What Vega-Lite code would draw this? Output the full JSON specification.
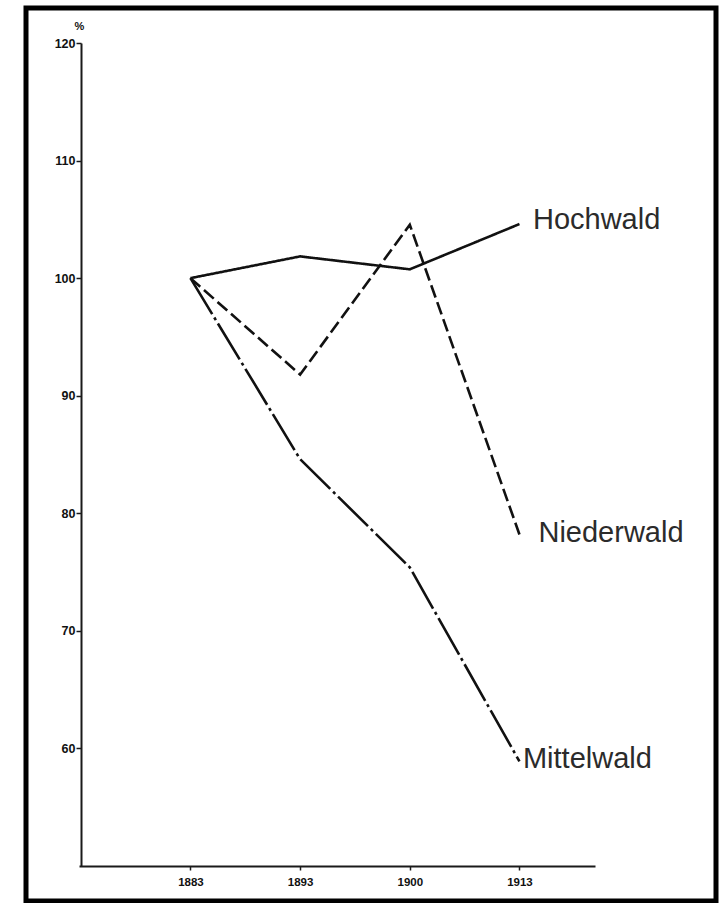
{
  "$schema": "https://vega.github.io/schema/vega-lite/v6.json",
  "width": 690,
  "height": 893,
  "autosize": {"type": "none"},
  "padding": {"left": 26, "top": 8, "right": 4, "bottom": 2},
  "background": "white",
  "config": {
    "view": {"stroke": "black", "strokeWidth": 5},
    "font": "Liberation Sans"
  },
  "data": {
    "values": [
      {"series": "Hochwald", "year": 1883, "value": 100},
      {"series": "Hochwald", "year": 1893, "value": 101.85},
      {"series": "Hochwald", "year": 1900, "value": 100.75},
      {"series": "Hochwald", "year": 1913, "value": 104.6},
      {"series": "Niederwald", "year": 1883, "value": 100},
      {"series": "Niederwald", "year": 1893, "value": 91.8},
      {"series": "Niederwald", "year": 1900, "value": 104.55},
      {"series": "Niederwald", "year": 1913, "value": 78.2},
      {"series": "Mittelwald", "year": 1883, "value": 100},
      {"series": "Mittelwald", "year": 1893, "value": 84.6},
      {"series": "Mittelwald", "year": 1900, "value": 75.4},
      {"series": "Mittelwald", "year": 1913, "value": 58.9}
    ]
  },
  "encoding": {
    "x": {
      "field": "year",
      "type": "ordinal",
      "scale": {"type": "point", "range": [53, 569], "padding": 0.8526, "align": 0.596},
      "axis": {
        "title": null,
        "offset": -35,
        "labelAngle": 0,
        "domainColor": "#1a1a1a",
        "domainWidth": 2,
        "tickColor": "#1a1a1a",
        "tickWidth": 1.5,
        "tickSize": 4,
        "labelFont": "Liberation Sans",
        "labelFontSize": 11.5,
        "labelFontWeight": "bold",
        "labelColor": "#111",
        "labelPadding": 6,
        "grid": false
      }
    },
    "y": {
      "field": "value",
      "type": "quantitative",
      "scale": {"domain": [50, 120], "range": [858, 35], "nice": false, "zero": false},
      "axis": {
        "values": [60, 70, 80, 90, 100, 110, 120],
        "offset": -55,
        "domainColor": "#1a1a1a",
        "domainWidth": 2,
        "tickColor": "#1a1a1a",
        "tickWidth": 1.5,
        "tickSize": 5,
        "labelFont": "Liberation Sans",
        "labelFontSize": 12.5,
        "labelFontWeight": "bold",
        "labelColor": "#111",
        "labelPadding": 1,
        "grid": false,
        "title": "%",
        "titleAngle": 0,
        "titleX": -2,
        "titleY": 18,
        "titleAlign": "center",
        "titleBaseline": "middle",
        "titleFontSize": 11,
        "titleFontWeight": "bold",
        "titleColor": "#111"
      }
    }
  },
  "layer": [
    {
      "mark": {"type": "line", "color": "#111", "strokeWidth": 2.6},
      "encoding": {
        "detail": {"field": "series"},
        "strokeDash": {
          "field": "series",
          "type": "nominal",
          "scale": {
            "domain": ["Hochwald", "Niederwald", "Mittelwald"],
            "range": [[1, 0], [13, 5], [42, 4, 3, 4]]
          },
          "legend": null
        }
      }
    },
    {
      "transform": [{"filter": "datum.year == 1913 && datum.series == 'Hochwald'"}],
      "mark": {"type": "text", "align": "left", "baseline": "alphabetic", "dx": 13.5, "dy": 5, "fontSize": 29, "color": "#2b2b2b", "font": "Liberation Sans"},
      "encoding": {"text": {"field": "series"}}
    },
    {
      "transform": [{"filter": "datum.year == 1913 && datum.series == 'Niederwald'"}],
      "mark": {"type": "text", "align": "left", "baseline": "alphabetic", "dx": 19, "dy": 8, "fontSize": 29, "color": "#2b2b2b", "font": "Liberation Sans"},
      "encoding": {"text": {"field": "series"}}
    },
    {
      "transform": [{"filter": "datum.year == 1913 && datum.series == 'Mittelwald'"}],
      "mark": {"type": "text", "align": "left", "baseline": "alphabetic", "dx": 3.5, "dy": 6.5, "fontSize": 29, "color": "#2b2b2b", "font": "Liberation Sans"},
      "encoding": {"text": {"field": "series"}}
    }
  ]
}
